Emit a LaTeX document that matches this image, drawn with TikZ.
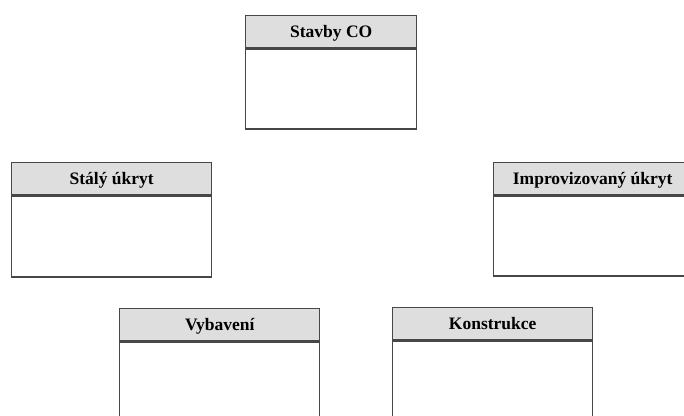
\documentclass[tikz,border=0pt]{standalone}
\usepackage{fontspec}
\setmainfont{Liberation Serif}
\begin{document}
\begin{tikzpicture}[x=1pt,y=-1pt,
  boxline/.style={draw=black!72, line width=1.4pt},
  head/.style={boxline, fill=black!13, inner sep=0pt, anchor=north west,
    minimum height=32pt, text height=14pt, text depth=1.5pt,
    font=\fontsize{17.5}{19}\selectfont\bfseries},
  body/.style={boxline, fill=white, inner sep=0pt, anchor=north}]
\useasboundingbox (0,0) rectangle (684,415);

% Stavby CO
\node[head, minimum width=171pt] (h1) at (245,15) {Stavby CO};
\node[body, minimum width=171pt, minimum height=80pt] (b1) at (h1.south) {};

% Stálý úkryt
\node[head, minimum width=200pt] (h2) at (11,162) {Stálý úkryt};
\node[body, minimum width=200pt, minimum height=81pt] (b2) at (h2.south) {};

% Improvizovaný úkryt (runs off the right edge)
\node[head, minimum width=198pt] (h3) at (493,162) {Improvizovaný úkryt};
\node[body, minimum width=198pt, minimum height=80pt] (b3) at (h3.south) {};

% Vybavení (runs off the bottom edge)
\node[head, minimum width=200pt] (h4) at (119,308) {Vybavení};
\node[body, minimum width=200pt, minimum height=85pt] (b4) at (h4.south) {};

% Konstrukce (runs off the bottom edge)
\node[head, minimum width=200pt] (h5) at (392,307) {Konstrukce};
\node[body, minimum width=200pt, minimum height=85pt] (b5) at (h5.south) {};
\end{tikzpicture}
\end{document}
